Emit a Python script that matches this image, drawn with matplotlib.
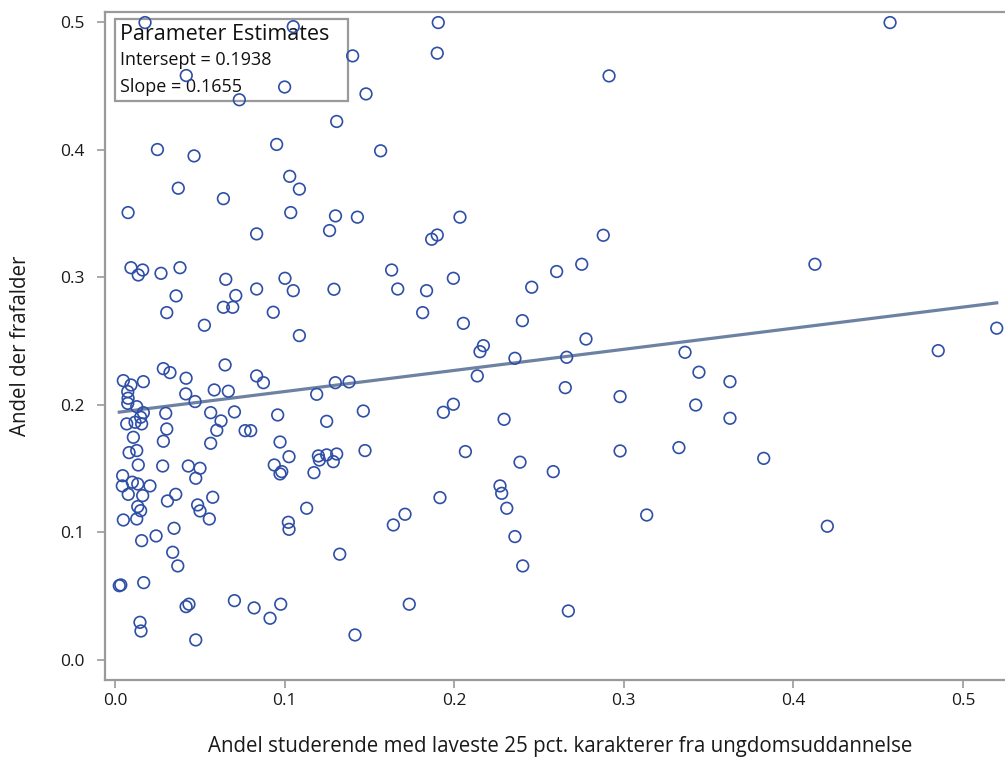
import numpy as np
import matplotlib.pyplot as plt

# Data
x_vals = [
    0.0177, 0.042, 0.100, 0.0733, 0.1051, 0.1307, 0.025, 0.0466, 0.0953, 0.103,
    0.1087, 0.0373, 0.0639, 0.0077, 0.1036, 0.130, 0.1265, 0.0835, 0.1906, 0.190,
    0.1401, 0.148, 0.1566, 0.1429, 0.2034, 0.190, 0.1867, 0.0094, 0.0163, 0.0137,
    0.0271, 0.0383, 0.0653, 0.0835, 0.1002, 0.1051, 0.1291, 0.036, 0.0712, 0.0305,
    0.0639, 0.0694, 0.0933, 0.0527, 0.1087, 0.0649, 0.0285, 0.0324, 0.0835, 0.0875,
    0.0419, 0.0049, 0.0094, 0.0167, 0.0075, 0.0077, 0.0075, 0.0128, 0.0585, 0.0668,
    0.0417, 0.0472, 0.1189, 0.1299, 0.0299, 0.0564, 0.0704, 0.0959, 0.0167, 0.0151,
    0.0069, 0.0118, 0.0157, 0.0625, 0.060, 0.0305, 0.0767, 0.080, 0.1248, 0.0108,
    0.0285, 0.0564, 0.0973, 0.0083, 0.0128, 0.1026, 0.1199, 0.1248, 0.1307, 0.1631,
    0.1995, 0.2604, 0.1667, 0.1837, 0.2457, 0.1814, 0.2054, 0.2402, 0.2172, 0.2152,
    0.2358, 0.2663, 0.138, 0.2136, 0.2655, 0.1464, 0.1936, 0.1995, 0.2294, 0.1474,
    0.2066, 0.2388, 0.0137, 0.0281, 0.0432, 0.0501, 0.0476, 0.0045, 0.0043, 0.0102,
    0.0134, 0.0206, 0.0078, 0.0163, 0.0309, 0.0358, 0.0134, 0.0151, 0.0049, 0.0128,
    0.0487, 0.0501, 0.0576, 0.0556, 0.0348, 0.0242, 0.0157, 0.034, 0.037, 0.0025,
    0.0034, 0.0169, 0.0419, 0.0436, 0.0704, 0.082, 0.0914, 0.0977, 0.0147, 0.0153,
    0.0476, 0.0939, 0.0983, 0.0973, 0.1287, 0.1205, 0.1173, 0.113, 0.1022, 0.1026,
    0.1325, 0.2584, 0.227, 0.228, 0.231, 0.1916, 0.171, 0.1641, 0.2358, 0.2404,
    0.1735, 0.1415, 0.2673, 0.457, 0.2913, 0.2879, 0.2752, 0.4127, 0.2777, 0.5199,
    0.3361, 0.4854, 0.2978, 0.3443, 0.3626, 0.3424, 0.3626, 0.2978, 0.3325, 0.3825,
    0.3135, 0.42,
]
y_vals = [
    0.4995, 0.458, 0.449, 0.439, 0.4963, 0.422, 0.400, 0.395, 0.404, 0.379,
    0.369, 0.3697, 0.3615, 0.3506, 0.3506, 0.348, 0.3365, 0.3339, 0.4995, 0.4755,
    0.4734, 0.4436, 0.399, 0.347, 0.347, 0.333, 0.3297, 0.3074, 0.3056, 0.3017,
    0.303, 0.3074, 0.2983, 0.2907, 0.2991, 0.2894, 0.2905, 0.2853, 0.2856, 0.2722,
    0.2764, 0.2764, 0.2725, 0.2623, 0.2542, 0.2312, 0.2283, 0.2252, 0.2226, 0.2173,
    0.2208, 0.2189, 0.2155, 0.2181, 0.2103, 0.2051, 0.2011, 0.1985, 0.2116, 0.2106,
    0.2085, 0.2025, 0.2082, 0.2173, 0.1933, 0.1938, 0.1944, 0.192, 0.1938, 0.1902,
    0.185, 0.1863, 0.185, 0.1873, 0.180, 0.181, 0.1797, 0.1797, 0.187, 0.1745,
    0.1714, 0.1698, 0.1708, 0.1625, 0.1641, 0.1593, 0.1599, 0.1607, 0.1614, 0.3056,
    0.2991, 0.3044, 0.2907, 0.2894, 0.2921, 0.2722, 0.2638, 0.2659, 0.2463, 0.2416,
    0.2364, 0.2372, 0.2179, 0.2226, 0.2134, 0.1951, 0.1941, 0.2004, 0.1886, 0.1641,
    0.1633, 0.155, 0.1528, 0.152, 0.152, 0.1502, 0.1424, 0.1444, 0.1364, 0.1393,
    0.1379, 0.1364, 0.1298, 0.1288, 0.1246, 0.1298, 0.1202, 0.117, 0.1097, 0.1105,
    0.1215, 0.1168, 0.1275, 0.1105, 0.1032, 0.0972, 0.0935, 0.0844, 0.0737, 0.0582,
    0.0588, 0.0606, 0.0418, 0.0437, 0.0465, 0.0408, 0.0327, 0.0437, 0.0295, 0.0227,
    0.0157, 0.1528, 0.1476, 0.1458, 0.1554, 0.1567, 0.1468, 0.1189, 0.1079, 0.1024,
    0.0829, 0.1476, 0.1364, 0.1306, 0.1189, 0.1272, 0.1142, 0.1058, 0.0967, 0.0737,
    0.0437, 0.0196, 0.0384, 0.4995, 0.4577, 0.3328, 0.3101, 0.3101, 0.2515, 0.260,
    0.2411, 0.2424, 0.2064, 0.2255, 0.2181, 0.1998, 0.1894, 0.1638, 0.1664, 0.158,
    0.1136, 0.1048,
]
intercept = 0.1938
slope = 0.1655

plt.rcParams['font.family'] = ['Open Sans', 'DejaVu Sans']

fig = plt.figure(figsize=(10.05, 7.58), dpi=100)
# right spine sits just past the image edge, as in the cropped original
ax = fig.add_axes([0.1045, 0.1029, 0.9055, 0.8813])

x = np.array(x_vals)
y = np.array(y_vals)

# Regression line over the data range
xl = np.array([x.min(), x.max()])
ax.plot(xl, intercept + slope * xl, color='#6d82a3', lw=2.3, zorder=2)

ax.scatter(x, y, s=70, facecolors='none', edgecolors='#2f4fa6',
           linewidths=1.2, zorder=3)

ax.set_xlim(-0.0059, 0.5307)
ax.set_ylim(-0.0157, 0.5078)
ax.set_xticks([0.0, 0.1, 0.2, 0.3, 0.4, 0.5])
ax.set_yticks([0.0, 0.1, 0.2, 0.3, 0.4, 0.5])
ax.set_xticklabels(['0.0', '0.1', '0.2', '0.3', '0.4', '0.5'])
ax.set_yticklabels(['0.0', '0.1', '0.2', '0.3', '0.4', '0.5'])

for s in ax.spines.values():
    s.set_color('#9a9a9a')
    s.set_linewidth(1.6)
ax.tick_params(direction='out', length=6, width=1.2, color='#9a9a9a',
               labelsize=12.5, labelcolor='#1a1a1a')
ax.tick_params(axis='x', pad=3)
ax.tick_params(axis='y', pad=9)

ax.set_xlabel('Andel studerende med laveste 25 pct. karakterer fra ungdomsuddannelse',
              fontsize=14.8, color='#1a1a1a', labelpad=20)
ax.set_ylabel('Andel der frafalder', fontsize=14.8, color='#1a1a1a', labelpad=21)

# Parameter estimates box
ax.add_patch(plt.Rectangle((0.0, 0.438), 0.1374, 0.0643,
                           fill=False, edgecolor='#9a9a9a', lw=1.6, zorder=1))
ax.text(0.0030, 0.4898, 'Parameter Estimates', fontsize=15.5, color='#111111',
        va='center', ha='left', zorder=1)
ax.text(0.0030, 0.4702, 'Intersept = 0.1938', fontsize=13, color='#111111',
        va='center', ha='left', zorder=1)
ax.text(0.0030, 0.4490, 'Slope = 0.1655', fontsize=13, color='#111111',
        va='center', ha='left', zorder=1)

fig.savefig('out.png', dpi=100)
